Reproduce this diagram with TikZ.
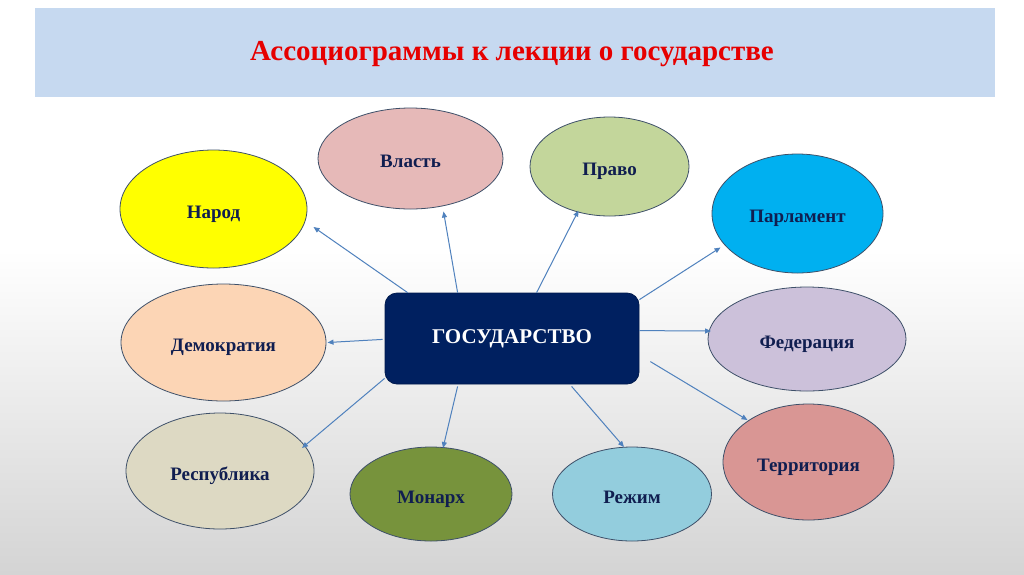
\documentclass[tikz,border=0pt]{standalone}
\usepackage{fontspec}
\setmainfont{Liberation Serif}
\usetikzlibrary{shapes.geometric,arrows.meta,calc}
\definecolor{bgbot}{RGB}{212,212,212}
\definecolor{band}{RGB}{198,217,240}
\definecolor{titlered}{RGB}{230,0,0}
\definecolor{navy}{RGB}{0,32,96}
\definecolor{txt}{RGB}{16,30,80}
\definecolor{edge}{RGB}{62,80,105}
\definecolor{arr}{RGB}{79,129,189}
\definecolor{cnarod}{RGB}{255,255,0}
\definecolor{cvlast}{RGB}{230,185,184}
\definecolor{cpravo}{RGB}{195,214,155}
\definecolor{cparl}{RGB}{0,176,240}
\definecolor{cdemo}{RGB}{252,213,181}
\definecolor{cfed}{RGB}{204,193,218}
\definecolor{cresp}{RGB}{221,217,195}
\definecolor{cmon}{RGB}{119,147,60}
\definecolor{crezh}{RGB}{147,205,221}
\definecolor{cterr}{RGB}{217,150,148}
\begin{document}
\begin{tikzpicture}[x=1pt,y=-1pt,
  bub/.style={ellipse, draw=edge, line width=0.8pt, inner sep=0pt, text=txt,
    text height=18pt, text depth=0pt,
    font=\bfseries\fontsize{19}{21}\selectfont},
  gbox/.style={rectangle, rounded corners=12pt, fill=navy, draw=navy!80!black,
    line width=0.8pt, text=white, minimum width=254pt, minimum height=91pt,
    font=\bfseries\fontsize{21}{24}\selectfont},
  conn/.style={draw=arr, line width=1pt, -{Triangle[length=6pt,width=5pt]}}]
\useasboundingbox (0,0) rectangle (1024,574);
\fill[white] (0,0) rectangle (1024,574);
\shade[top color=white, bottom color=bgbot] (0,250) rectangle (1024,574);
\fill[band] (35,8) rectangle (995,97);
\node[text=titlered, font=\bfseries\fontsize{29}{32}\selectfont] (title) at (512,54) {Ассоциограммы к лекции о государстве};

\node[gbox] (g) at (512,338.5) {ГОСУДАРСТВО};

\node[bub, fill=cnarod, minimum width=187pt, minimum height=118pt] (narod) at (213.5,209) {Народ};
\node[bub, fill=cvlast, minimum width=185pt, minimum height=101pt] (vlast) at (410.5,158.5) {Власть};
\node[bub, fill=cpravo, minimum width=159pt, minimum height=99pt] (pravo) at (609.5,166.5) {Право};
\node[bub, fill=cparl, minimum width=171pt, minimum height=119pt] (parl) at (797.5,213.5) {Парламент};
\node[bub, fill=cdemo, minimum width=205pt, minimum height=117pt] (demo) at (223.5,342.5) {Демократия};
\node[bub, fill=cfed, minimum width=198pt, minimum height=104pt] (fed) at (807,339) {Федерация};
\node[bub, fill=cresp, minimum width=188pt, minimum height=116pt] (resp) at (220,471) {Республика};
\node[bub, fill=cmon, minimum width=162pt, minimum height=94pt] (mon) at (431,494) {Монарх};
\node[bub, fill=crezh, minimum width=159pt, minimum height=94pt] (rezh) at (632,494) {Режим};
\node[bub, fill=cterr, minimum width=171pt, minimum height=116pt] (terr) at (808.5,462) {Территория};

\draw[conn] ($(g.north west)+(23,0)$) -- ($(narod.center)+(100,18)$);
\draw[conn] ($(g.north west)+(73,0)$) -- ($(vlast.center)+(33,53)$);
\draw[conn] ($(g.north west)+(152,0)$) -- ($(pravo.center)+(-31,44)$);
\draw[conn] ($(g.north east)+(0,7)$) -- ($(parl.center)+(-77,34)$);
\draw[conn] ($(g.north east)+(0,38)$) -- ($(fed.center)+(-96,-8)$);
\draw[conn] ($(g.north east)+(11,69)$) -- ($(terr.center)+(-61,-42)$);
\draw[conn] ($(g.south west)+(187,2)$) -- ($(rezh.center)+(-8,-47)$);
\draw[conn] ($(g.south west)+(73,2)$) -- ($(mon.center)+(12,-46)$);
\draw[conn] ($(g.south west)+(0,-6)$) -- ($(resp.center)+(82,-23)$);
\draw[conn] ($(g.south west)+(-2,-45)$) -- ($(demo.center)+(104,0)$);
\end{tikzpicture}
\end{document}
